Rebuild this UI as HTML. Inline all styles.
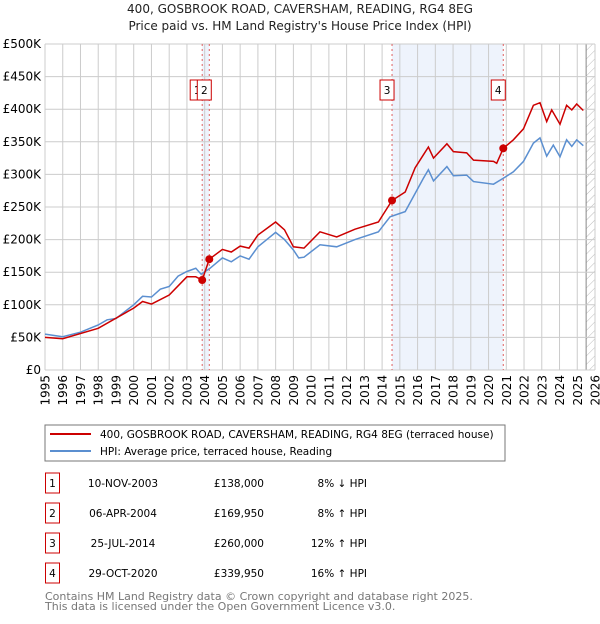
<!DOCTYPE html>
<html><head><meta charset="utf-8"><style>
body{margin:0;background:#fff;font-family:"DejaVu Sans","Liberation Sans",sans-serif;}
svg text{font-family:"DejaVu Sans","Liberation Sans",sans-serif;}
</style></head><body>
<svg id="chart" width="600" height="620" xmlns="http://www.w3.org/2000/svg">
<defs><pattern id="hatch" width="6" height="6" patternUnits="userSpaceOnUse" patternTransform="rotate(45)"><line x1="0" y1="0" x2="0" y2="6" stroke="#bbb" stroke-width="1"/></pattern></defs>
<text x="300" y="13" text-anchor="middle" font-size="12" fill="#222">400, GOSBROOK ROAD, CAVERSHAM, READING, RG4 8EG</text>
<text x="300" y="30" text-anchor="middle" font-size="12" fill="#222">Price paid vs. HM Land Registry's House Price Index (HPI)</text>
<g id="bg"></g><g id="grid"></g><g id="lines"></g><g id="marks"></g>
<rect x="45" y="425" width="460" height="36" fill="#fff" stroke="#777"/>
<line x1="50" y1="434" x2="91" y2="434" stroke="#cc0000" stroke-width="2"/>
<text x="100" y="438" font-size="10.5" fill="#000">400, GOSBROOK ROAD, CAVERSHAM, READING, RG4 8EG (terraced house)</text>
<line x1="50" y1="451" x2="91" y2="451" stroke="#5b8fd0" stroke-width="2"/>
<text x="100" y="455" font-size="10.5" fill="#000">HPI: Average price, terraced house, Reading</text>
<g id="table" font-size="10.5" fill="#000"></g>
<text x="45" y="600" font-size="11" fill="#777">Contains HM Land Registry data © Crown copyright and database right 2025.</text>
<text x="45" y="610" font-size="11" fill="#777">This data is licensed under the Open Government Licence v3.0.</text>
</svg>
<script>
const hpiYears=[1995,1996,1997,1998,1998.5,1999,2000,2000.5,2001,2001.5,2002,2002.5,2003,2003.5,2003.8,2004.3,2005,2005.5,2006,2006.5,2007,2007.5,2008,2008.5,2009,2009.3,2009.6,2010.5,2011.44,2012.47,2013.79,2014.45,2015.3,2016.33,2016.61,2016.9,2017.65,2018.02,2018.77,2019.15,2020.28,2020.83,2021.4,2021.97,2022.53,2022.9,2023.28,2023.65,2024.03,2024.4,2024.69,2024.97,2025.34];
const hpiValues=[55,51,58,69,77,79,100,113,112,124,128,144,151,156,147,156,172,166,175,170,189,200,211,200,184,172,173,192,189,200,212,235,243,294,307,290,312,298,299,289,285,294,304,320,348,356,328,345,327,353,343,353,344];
const priceYears=[1995,1996,1998,2000,2000.5,2001,2002,2003,2003.5,2003.86,2004.26,2005,2005.5,2006,2006.5,2007,2008,2008.5,2009,2009.6,2010.5,2011.44,2012.47,2013.79,2014.56,2015.3,2015.86,2016.33,2016.61,2016.9,2017.65,2018.02,2018.77,2019.15,2020.28,2020.46,2020.83,2021.4,2021.97,2022.53,2022.9,2023.28,2023.56,2024.03,2024.4,2024.69,2024.97,2025.34];
const priceValues=[50,48,64,95,105,101,115,143,143,138,170,185,181,190,187,207,227,215,189,187,212,204,216,227,260,273,310,330,342,325,347,335,333,322,320,317,340,353,370,406,410,381,399,377,406,399,408,398];
const saleLabels=["1","2","3","4"];
const saleYears=[2003.86,2004.26,2014.56,2020.83];
const saleValues=[138,169.95,260,339.95];
const saleDates=["10-NOV-2003","06-APR-2004","25-JUL-2014","29-OCT-2020"];
const salePrices=["£138,000","£169,950","£260,000","£339,950"];
const saleHpi=["8% ↓ HPI","8% ↑ HPI","12% ↑ HPI","16% ↑ HPI"];
const yTicks=[0,50,100,150,200,250,300,350,400,450,500];
const yTickLabels=["£0","£50K","£100K","£150K","£200K","£250K","£300K","£350K","£400K","£450K","£500K"];
const xTicks=[1995,1996,1997,1998,1999,2000,2001,2002,2003,2004,2005,2006,2007,2008,2009,2010,2011,2012,2013,2014,2015,2016,2017,2018,2019,2020,2021,2022,2023,2024,2025,2026];
const L=45,R=595,T=44,B=370;
const X=y=>L+(y-1995)*(R-L)/31;
const Y=v=>B-v*(B-T)/500;
const NS="http://www.w3.org/2000/svg";
function mk(parent,tag,attrs){const e=document.createElementNS(NS,tag);for(const k in attrs)e.setAttribute(k,attrs[k]);document.getElementById(parent).appendChild(e);return e;}
let s=mk('bg','rect',{x:X(saleYears[0]),y:T,width:X(saleYears[1])-X(saleYears[0]),height:B-T,fill:'#eef3fc'});


s=mk('bg','rect',{x:X(saleYears[2]),y:T,width:X(saleYears[3])-X(saleYears[2]),height:B-T,fill:'#eef3fc'});


s=mk('bg','rect',{x:X(2025.5),y:T,width:R-X(2025.5),height:B-T,fill:'url(#hatch)'});


mk('bg','line',{x1:X(2025.5),y1:T,x2:X(2025.5),y2:B,stroke:'#888'});
yTicks.forEach((v,i)=>{
 const l=mk('grid','line',{x1:L,y1:Y(v),x2:R,y2:Y(v),stroke:'#ccc'});
 
 
 const t=mk('grid','text',{x:L-4,y:Y(v)+4,'text-anchor':'end','font-size':'12',fill:'#000'});
 t.textContent=yTickLabels[i];
 
 
});
xTicks.forEach(yr=>{
 const l=mk('grid','line',{x1:X(yr),y1:T,x2:X(yr),y2:B,stroke:'#ccc'});
 
 
 const t=mk('grid','text',{x:0,y:0,'text-anchor':'end','font-size':'12',fill:'#000',transform:`translate(${X(yr)+4.5},375) rotate(-90)`});
 t.textContent=yr;
 
 
});
saleYears.forEach((yr,i)=>{
 const l=mk('grid','line',{x1:X(yr),y1:T,x2:X(yr),y2:B,stroke:'#e06060','stroke-dasharray':'2,3'});
 
 
});
const pts=(xs,vs)=>xs.map((x,i)=>X(x).toFixed(1)+','+Y(vs[i]).toFixed(1)).join(' ');
let p=mk('lines','polyline',{points:pts(hpiYears,hpiValues),fill:'none',stroke:'#5b8fd0','stroke-width':1.5});


p=mk('lines','polyline',{points:pts(priceYears,priceValues),fill:'none',stroke:'#cc0000','stroke-width':1.5});


saleYears.forEach((yr,i)=>{
 const c=mk('marks','circle',{cx:X(yr),cy:Y(saleValues[i]),r:4,fill:'#cc0000'});
 
 
 const bx=X(yr)-5-7;
 const r=mk('marks','rect',{x:bx,y:80,width:14,height:20,fill:'#fff',stroke:'#cc0000'});
 
 
 const t=mk('marks','text',{x:bx+7,y:94,'text-anchor':'middle','font-size':'10.5',fill:'#000'});
 t.textContent=saleLabels[i];
 
 
 const ry=473+i*30;
 const tb=mk('table','rect',{x:45.5,y:ry,width:14,height:20,fill:'#fff',stroke:'#cc0000'});
 
 
 const cells=[[52.5,saleLabels[i],'middle'],[123,saleDates[i],'middle'],[264,salePrices[i],'end'],[367,saleHpi[i],'end']];
 cells.forEach((c,j)=>{
  const tt=mk('table','text',{x:c[0],y:ry+14,'text-anchor':c[2],'font-size':'10.5',fill:'#000'});
  tt.textContent=c[1];
  
  
 });
});
</script>
</body></html>
